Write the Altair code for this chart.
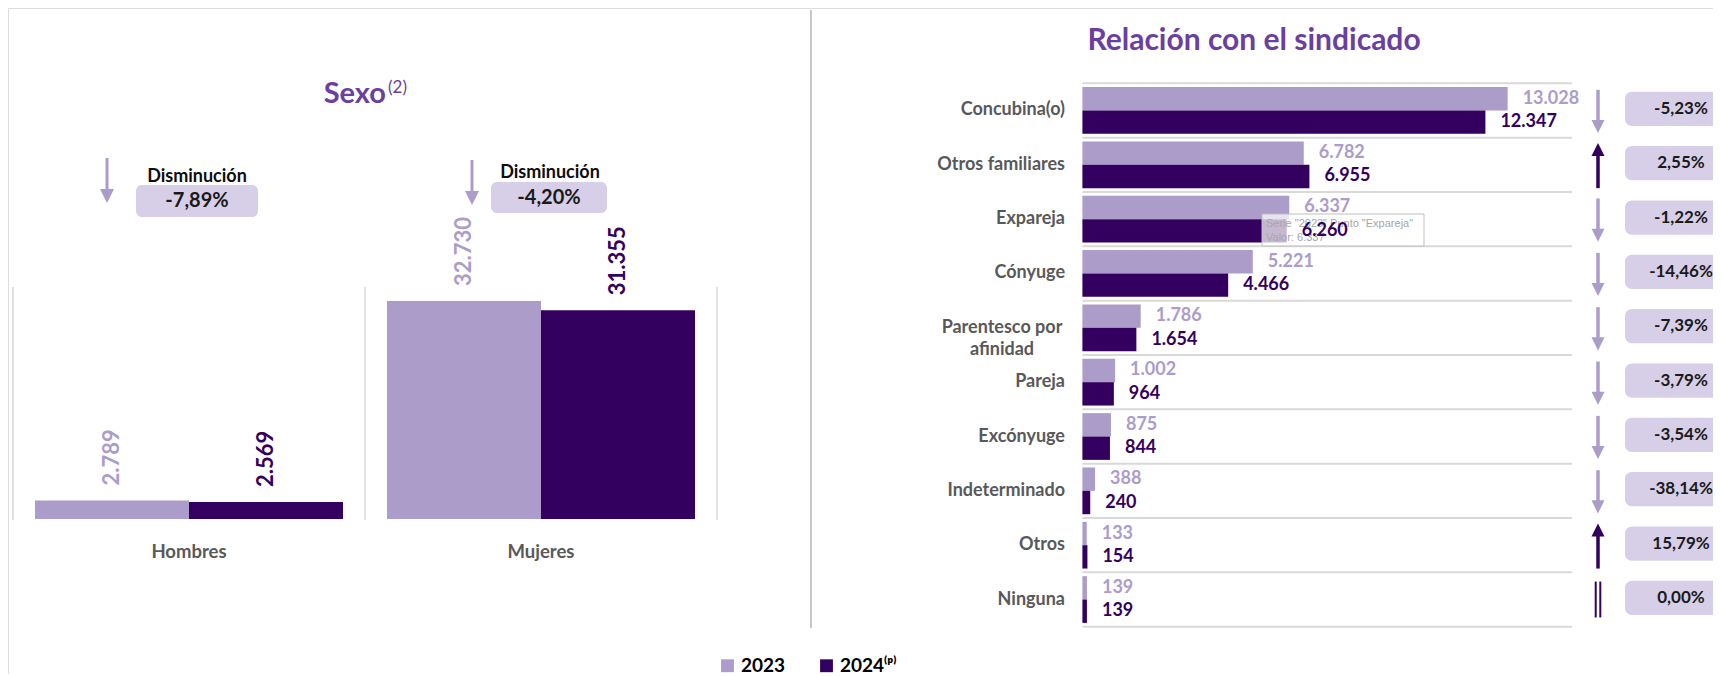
import altair as alt
import numpy as np
import pandas as pd

# ---------------- data ----------------
years = ["2023", "2024⁽ᵖ⁾"]

sexo_cats = ["Hombres", "Mujeres"]
sexo_2023 = [2789, 32730]
sexo_2024 = [2569, 31355]
sexo_pct = ["-7,89%", "-4,20%"]
sexo_trend = ["Disminución", "Disminución"]

rel_cats = ["Concubina(o)", "Otros familiares", "Expareja", "Cónyuge",
            "Parentesco por afinidad", "Pareja", "Excónyuge", "Indeterminado",
            "Otros", "Ninguna"]
rel_2023 = [13028, 6782, 6337, 5221, 1786, 1002, 875, 388, 133, 139]
rel_2024 = [12347, 6955, 6260, 4466, 1654, 964, 844, 240, 154, 139]
rel_pct = ["-5,23%", "2,55%", "-1,22%", "-14,46%", "-7,39%", "-3,79%",
           "-3,54%", "-38,14%", "15,79%", "0,00%"]

tooltip_lines = ['Serie "2023" Punto "Expareja"', "Valor: 6.337"]

# ---------------- styles ----------------
FONT = "Lato"
LIGHT = "#AC9CC9"
DARK = "#33005F"
BADGE = "#D7CFE7"
TITLE = "#6B3FA0"
GRAYTXT = "#595959"
GRID = "#D9D9D9"


def fmt(v):
    return f"{v:,}".replace(",", ".")


sexo_df = pd.DataFrame({
    "cat": sexo_cats * 2,
    "year": [years[0]] * len(sexo_cats) + [years[1]] * len(sexo_cats),
    "value": sexo_2023 + sexo_2024,
})
sexo_df["label"] = sexo_df["value"].map(fmt)

rel_df = pd.DataFrame({
    "cat": rel_cats * 2,
    "year": [years[0]] * len(rel_cats) + [years[1]] * len(rel_cats),
    "value": rel_2023 + rel_2024,
})
rel_df["label"] = rel_df["value"].map(fmt)

rows_df = pd.DataFrame({"idx": list(range(len(rel_cats))), "cat": rel_cats,
                        "pct": rel_pct, "v23": rel_2023, "v24": rel_2024})
rows_df["dir"] = np.where(rows_df["v24"] > rows_df["v23"], "up",
                          np.where(rows_df["v24"] < rows_df["v23"], "down", "eq"))

color = alt.Color(
    "year:N",
    scale=alt.Scale(domain=years, range=[LIGHT, DARK]),
    legend=alt.Legend(orient="none", legendX=710, legendY=648, direction="horizontal",
                      title=None, symbolType="square", symbolSize=165,
                      symbolStrokeWidth=0, labelFont=FONT, labelFontSize=19,
                      labelFontWeight="bold", labelColor="#000000", labelOffset=4,
                      columnPadding=31, padding=0),
)

# ---------------- left panel: Sexo ----------------
sx_scale = alt.Scale(domain=sexo_cats, range=[5, 709], paddingInner=0.125, paddingOuter=0.0625)
sy_scale = alt.Scale(domain=[0, 35000], range=[511, 278])
sx = alt.X("cat:N", scale=sx_scale, axis=None, sort=sexo_cats)
sy = alt.Y("value:Q", scale=sy_scale, axis=None)
sxo = alt.XOffset("year:N", scale=alt.Scale(domain=years), sort=years)

left_grid = alt.Chart(pd.DataFrame({"g": list(range(len(sexo_cats) + 1))})).mark_rule(
    color=GRID, strokeWidth=1.5).encode(
    x=alt.X("g:Q", scale=alt.Scale(domain=[0, len(sexo_cats)], range=[5, 709]), axis=None),
    y=alt.value(279), y2=alt.value(512))

sexo_bars = alt.Chart(sexo_df).mark_bar().encode(x=sx, xOffset=sxo, y=sy, color=color)
sexo_l23 = alt.Chart(sexo_df).transform_filter(alt.datum.year == years[0]).mark_text(
    angle=270, align="left", baseline="middle", dx=15, font=FONT, fontSize=22,
    fontWeight="bold", color=LIGHT).encode(x=sx, xOffset=sxo, y=sy, text="label:N")
sexo_l24 = alt.Chart(sexo_df).transform_filter(alt.datum.year != years[0]).mark_text(
    angle=270, align="left", baseline="middle", dx=15, font=FONT, fontSize=22,
    fontWeight="bold", color=DARK).encode(x=sx, xOffset=sxo, y=sy, text="label:N")
sexo_cat_lbl = alt.Chart(pd.DataFrame({"cat": sexo_cats})).mark_text(
    font=FONT, fontSize=18.5, fontWeight="bold", color=GRAYTXT, baseline="alphabetic").encode(
    x=sx, y=alt.value(550), text="cat:N")
sexo_panel = alt.layer(sexo_bars, sexo_l23, sexo_l24, sexo_cat_lbl)

# annotations (arrows + badges) for Sexo
ann_pos = [  # arrow x, arrow top, tip, text x, text baseline, rect x1,x2,y1,y2
    (99, 150, 195, 189, 174, 128, 250, 177, 209),
    (464, 152, 197, 542, 170, 483, 599, 174, 205),
]
sexo_ann = []
for i, (ax, at, tip, tx, tb, rx1, rx2, ry1, ry2) in enumerate(ann_pos):
    d = pd.DataFrame({"trend": [sexo_trend[i]], "pct": [sexo_pct[i]]})
    sexo_ann += [
        alt.Chart(d).mark_rule(color=LIGHT, strokeWidth=3).encode(
            x=alt.value(ax), y=alt.value(at), y2=alt.value(tip - 8)),
        alt.Chart(d).mark_point(shape="M-1,-1L1,-1L0,1Z", filled=True, size=196,
                                color=LIGHT, opacity=1, strokeWidth=0).encode(
            x=alt.value(ax), y=alt.value(tip - 7)),
        alt.Chart(d).mark_text(font=FONT, fontSize=18, fontWeight="bold", color="#0D0D0D",
                               baseline="alphabetic").encode(
            x=alt.value(tx), y=alt.value(tb), text="trend:N"),
        alt.Chart(d).mark_rect(color=BADGE, cornerRadius=6).encode(
            x=alt.value(rx1), x2=alt.value(rx2), y=alt.value(ry1), y2=alt.value(ry2)),
        alt.Chart(d).mark_text(font=FONT, fontSize=20, fontWeight="bold", color="#1A1A1A",
                               baseline="middle").encode(
            x=alt.value((rx1 + rx2) / 2), y=alt.value((ry1 + ry2) / 2), text="pct:N"),
    ]

one = pd.DataFrame({"t": ["Sexo"], "s": ["(2)"], "r": ["Relación con el sindicado"]})
title_sexo = alt.Chart(one).mark_text(font=FONT, fontSize=29, fontWeight="bold", color=TITLE,
                                      align="right", baseline="alphabetic").encode(
    x=alt.value(378), y=alt.value(95), text="t:N")
title_sup = alt.Chart(one).mark_text(font=FONT, fontSize=17, color=TITLE,
                                     align="left", baseline="alphabetic").encode(
    x=alt.value(380), y=alt.value(85), text="s:N")
title_rel = alt.Chart(one).mark_text(font=FONT, fontSize=30, fontWeight="bold", color=TITLE,
                                     align="center", baseline="alphabetic").encode(
    x=alt.value(1246), y=alt.value(42), text="r:N")

divider = alt.Chart(one).mark_rule(color="#C8C8C8", strokeWidth=2).encode(
    x=alt.value(803), y=alt.value(2), y2=alt.value(620))

# ---------------- right panel: Relación ----------------
R_TOP, R_BOT = 75.3, 618.7
rx_scale = alt.Scale(domain=[0, 15000], range=[1074.4, 1564])
ry_scale = alt.Scale(domain=rel_cats, range=[R_TOP, R_BOT], paddingInner=0.14, paddingOuter=0.07)
row_scale = alt.Scale(domain=[0, len(rel_cats)], range=[R_TOP, R_BOT])
rx = alt.X("value:Q", scale=rx_scale, axis=None)
ry = alt.Y("cat:N", scale=ry_scale, axis=None, sort=rel_cats)
ryo = alt.YOffset("year:N", scale=alt.Scale(domain=years), sort=years)

separators = alt.Chart(pd.DataFrame({"k": list(range(len(rel_cats) + 1))})).mark_rule(
    color=GRID, strokeWidth=2).encode(
    y=alt.Y("k:Q", scale=row_scale, axis=None), x=alt.value(1074.4), x2=alt.value(1564))

rel_bars = alt.Chart(rel_df).mark_bar().encode(x=rx, y=ry, yOffset=ryo, color=color)

tip_df = pd.DataFrame({"l1": [tooltip_lines[0]], "l2": [tooltip_lines[1]]})
tip_rect = alt.Chart(tip_df).mark_rect(fill="white", fillOpacity=0.72, stroke="#BFBFBF",
                                       strokeWidth=1).encode(
    x=alt.value(1254), x2=alt.value(1416), y=alt.value(206), y2=alt.value(238))
tip_t1 = alt.Chart(tip_df).mark_text(font="Liberation Sans Narrow, Liberation Sans", fontSize=11,
                                     color="#A6A6A6", align="left", baseline="alphabetic").encode(
    x=alt.value(1258), y=alt.value(219), text="l1:N")
tip_t2 = alt.Chart(tip_df).mark_text(font="Liberation Sans Narrow, Liberation Sans", fontSize=11,
                                     color="#A6A6A6", align="left", baseline="alphabetic").encode(
    x=alt.value(1258), y=alt.value(233), text="l2:N")

cat_df = pd.DataFrame({"cat": rel_cats})
rel_cat_lbl = alt.Chart(cat_df).transform_filter(
    alt.datum.cat != "Parentesco por afinidad").mark_text(
    font=FONT, fontSize=18, fontWeight="bold", color=GRAYTXT, align="right",
    baseline="middle").encode(x=alt.value(1057), y=ry, text="cat:N")
rel_cat_lbl2 = alt.Chart(cat_df).transform_filter(
    alt.datum.cat == "Parentesco por afinidad").transform_calculate(
    lines="split(datum.cat, ' afinidad')[0] + '|afinidad'").mark_text(
    font=FONT, fontSize=18, fontWeight="bold", color=GRAYTXT, align="center",
    baseline="middle", lineBreak="|", lineHeight=22).encode(
    x=alt.value(994), y=ry, text="lines:N")

rel_l23 = alt.Chart(rel_df).transform_filter(alt.datum.year == years[0]).mark_text(
    align="left", baseline="middle", dx=15, font=FONT, fontSize=18, fontWeight="bold",
    color=LIGHT).encode(x=rx, y=ry, yOffset=ryo, text="label:N")
rel_l24 = alt.Chart(rel_df).transform_filter(alt.datum.year != years[0]).mark_text(
    align="left", baseline="middle", dx=15, font=FONT, fontSize=18, fontWeight="bold",
    color=DARK).encode(x=rx, y=ry, yOffset=ryo, text="label:N")

rel_panel = alt.layer(rel_bars, tip_rect, tip_t1, tip_t2, rel_cat_lbl, rel_cat_lbl2,
                      rel_l23, rel_l24)

# arrows and badges per row
AX = 1590
base = alt.Chart(rows_df)
down_shaft = base.transform_filter(alt.datum.dir == "down").transform_calculate(
    a="datum.idx + 0.12", b="datum.idx + 0.80").mark_rule(color=LIGHT, strokeWidth=3.5).encode(
    x=alt.value(AX), y=alt.Y("a:Q", scale=row_scale, axis=None), y2="b:Q")
down_head = base.transform_filter(alt.datum.dir == "down").transform_calculate(
    h="datum.idx + 0.795").mark_point(shape="M-1,-1L1,-1L0,1Z", filled=True, size=170,
                                      color=LIGHT, opacity=1, strokeWidth=0).encode(
    x=alt.value(AX), y=alt.Y("h:Q", scale=row_scale, axis=None))
up_shaft = base.transform_filter(alt.datum.dir == "up").transform_calculate(
    a="datum.idx + 0.22", b="datum.idx + 0.93").mark_rule(color=DARK, strokeWidth=3.5).encode(
    x=alt.value(AX), y=alt.Y("a:Q", scale=row_scale, axis=None), y2="b:Q")
up_head = base.transform_filter(alt.datum.dir == "up").transform_calculate(
    h="datum.idx + 0.22").mark_point(shape="M-1,1L1,1L0,-1Z", filled=True, size=170,
                                     color=DARK, opacity=1, strokeWidth=0).encode(
    x=alt.value(AX), y=alt.Y("h:Q", scale=row_scale, axis=None))
eq_l = base.transform_filter(alt.datum.dir == "eq").transform_calculate(
    a="datum.idx + 0.17", b="datum.idx + 0.83").mark_rule(color=DARK, strokeWidth=2).encode(
    x=alt.value(AX - 2.3), y=alt.Y("a:Q", scale=row_scale, axis=None), y2="b:Q")
eq_r = base.transform_filter(alt.datum.dir == "eq").transform_calculate(
    a="datum.idx + 0.17", b="datum.idx + 0.83").mark_rule(color=DARK, strokeWidth=2).encode(
    x=alt.value(AX + 2.3), y=alt.Y("a:Q", scale=row_scale, axis=None), y2="b:Q")
badges = base.transform_calculate(a="datum.idx + 0.155", b="datum.idx + 0.785").mark_rect(
    color=BADGE, cornerRadius=7).encode(
    x=alt.value(1617), x2=alt.value(1730), y=alt.Y("a:Q", scale=row_scale, axis=None), y2="b:Q")
badge_txt = base.transform_calculate(m="datum.idx + 0.47").mark_text(
    font=FONT, fontSize=17, fontWeight="bold", color="#1A1A1A", baseline="middle").encode(
    x=alt.value(1673), y=alt.Y("m:Q", scale=row_scale, axis=None), text="pct:N")

rows_panel = alt.layer(separators, down_shaft, down_head, up_shaft, up_head, eq_l, eq_r,
                       badges, badge_txt)

chart = alt.layer(
    left_grid, sexo_panel, *sexo_ann, title_sexo, title_sup, title_rel, divider,
    rows_panel, rel_panel,
).resolve_scale(
    x="independent", y="independent", xOffset="independent", yOffset="independent"
).properties(
    width=1705, height=666, padding=0,
    autosize=alt.AutoSizeParams(type="none"),
).configure_view(strokeWidth=0, strokeOpacity=0).configure(background="white")

chart.save("out.html", embed_options={"renderer": "svg", "actions": False})
